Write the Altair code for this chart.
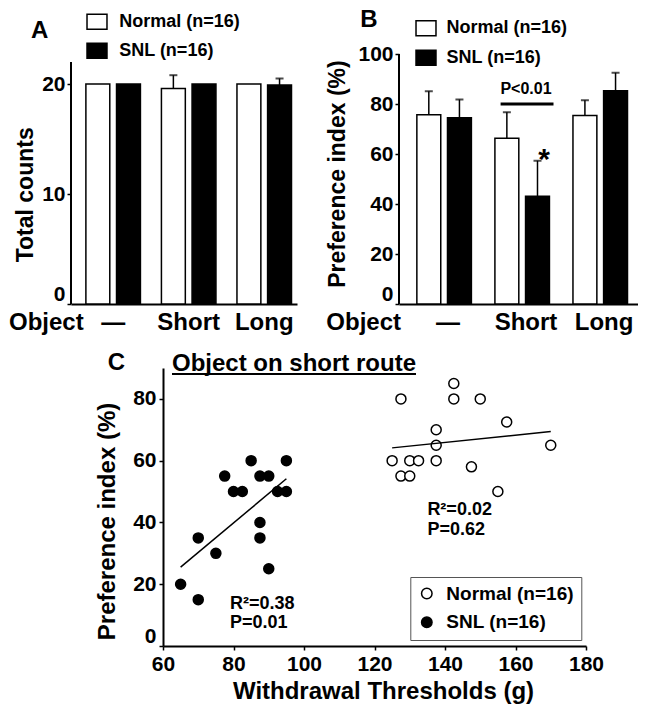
import altair as alt
import pandas as pd

FONT = "Liberation Sans"

objects = ["—", "Short", "Long"]
groups = ["Normal (n=16)", "SNL (n=16)"]

# Panel A: total counts
counts_normal = [20.0, 19.6, 20.0]
counts_normal_upper = [20.0, 20.8, 20.0]
counts_snl = [20.0, 20.0, 19.9]
counts_snl_upper = [20.0, 20.0, 20.5]

# Panel B: preference index (%)
pref_normal = [75.7, 66.3, 75.4]
pref_normal_upper = [85.1, 76.7, 81.5]
pref_snl = [74.5, 43.1, 85.3]
pref_snl_upper = [81.8, 57.3, 92.5]

# Panel C: scatter
normal_threshold = [127.5, 142.5, 150, 142.5, 157.5, 137.5, 137.5, 170, 125, 130, 132.5, 137.5, 147.5, 127.5, 130, 155]
normal_pref = [80, 80, 80, 85, 72.5, 70, 65, 65, 60, 60, 60, 60, 58, 55, 55, 50]
snl_threshold = [65, 70, 70, 75, 77.5, 80, 82.5, 85, 87.5, 90, 87.5, 87.5, 90, 92.5, 95, 95]
snl_pref = [20, 15, 35, 30, 55, 50, 50, 60, 55, 55, 40, 35, 25, 50, 50, 60]

annot_text = ["R²=0.38", "P=0.01", "R²=0.02", "P=0.62"]
annot_x = [79, 79, 135, 135]
annot_y = [13.7, 7.4, 43.9, 37.4]


def bar_table(n, nu, s, su):
    rows = []
    for i, o in enumerate(objects):
        rows.append({"object": o, "group": groups[0], "value": n[i], "upper": nu[i]})
        rows.append({"object": o, "group": groups[1], "value": s[i], "upper": su[i]})
    return pd.DataFrame(rows)


one = pd.DataFrame({"t": ["x"]})
BOLD = dict(font=FONT, fontWeight="bold", color="black")
ZERO_BOTTOM = alt.expr("datum.value == 0 ? 'bottom' : 'middle'")


def spacer(x1, x2, y1, y2):
    return alt.Chart(one).mark_rule(opacity=0).encode(
        x=alt.value(x1), x2=alt.value(x2), y=alt.value(y1), y2=alt.value(y2))


def label(text, x, y, size, align="left", baseline="alphabetic"):
    return alt.Chart(pd.DataFrame({"t": [text]})).mark_text(
        align=align, baseline=baseline, fontSize=size, **BOLD).encode(
        text="t:N", x=alt.value(x), y=alt.value(y))


def bar_panel(df, width, height, ydom, yaxis_top, yticks, ytitle, ytitle_xy, xs, offs,
              legx, legy, rowpad, loff, letter, letter_xy, sp, extra=None):
    x = alt.X("object:N", sort=objects,
              scale=alt.Scale(paddingInner=xs[0], paddingOuter=xs[1], align=xs[2]),
              axis=alt.Axis(title="Object", titleAngle=0, titleX=sp[0] + 0.5, titleY=6,
                            titleAlign="left", titleBaseline="top", titleFontSize=24,
                            labelAngle=0, labelFontSize=24, labelPadding=6, ticks=False,
                            tickSize=0, domainWidth=2))
    xo = alt.XOffset("group:N", sort=groups,
                     scale=alt.Scale(paddingInner=offs, paddingOuter=0))
    y = alt.Y("value:Q", scale=alt.Scale(domain=ydom, nice=False, zero=True),
              axis=alt.Axis(values=yticks, title=ytitle, titleFontSize=23,
                            titleX=ytitle_xy[0], titleY=ytitle_xy[1], titleBaseline="middle",
                            titleAlign="center", titleAngle=270,
                            labelFontSize=21, tickSize=4, tickWidth=1.5,
                            labelPadding=2, domain=False,
                            labelFlush=False, labelBaseline=ZERO_BOTTOM))
    fill = alt.Fill("group:N", scale=alt.Scale(domain=groups, range=["white", "black"]),
                    legend=alt.Legend(title=None, orient="none", legendX=legx, legendY=legy,
                                      direction="vertical",
                                      symbolType="M-1.2,-0.9H1.2V0.9H-1.2Z",
                                      symbolSize=277, symbolStrokeColor="black",
                                      symbolStrokeWidth=1.5, labelFontSize=18,
                                      labelFont=FONT, labelFontWeight="bold",
                                      labelColor="black", rowPadding=rowpad,
                                      labelOffset=loff, padding=0))
    base = alt.Chart(df)
    yline = alt.Chart(one).mark_rule(color="black", strokeWidth=2).encode(
        x=alt.value(0), y=alt.datum(0), y2=alt.datum(yaxis_top))
    bars = base.mark_bar(stroke="black", strokeWidth=1.5).encode(x=x, xOffset=xo, y=y, fill=fill)
    err = base.transform_filter("datum.upper > datum.value").mark_rule(
        color="black", strokeWidth=1.5).encode(x=x, xOffset=xo, y="value:Q", y2="upper:Q")
    cap = base.transform_filter("datum.upper > datum.value").mark_tick(
        color="black", thickness=2, size=8).encode(x=x, xOffset=xo, y="upper:Q")
    layers = [bars, err, cap, yline, label(letter, letter_xy[0], letter_xy[1], 24),
              spacer(sp[0], sp[1], sp[2], sp[3])]
    if extra:
        layers += extra
    return alt.layer(*layers).properties(width=width, height=height)


dfA = bar_table(counts_normal, counts_normal_upper, counts_snl, counts_snl_upper)
dfB = bar_table(pref_normal, pref_normal_upper, pref_snl, pref_snl_upper)

# A: plot area starts 7 px above the top of its axis so both panels share a top edge
A = bar_panel(dfA, 226, 250, [0, 250 / 11], 22, [0, 10, 20], "Total counts", (-46, 140.3),
              (0.278, 0.135, 0.73), 0.22, 16.5, -41.7, 8, 12.7,
              "A", (-40, -15.7), (-63, 226, -43.7, 289.3))

bracket = alt.Chart(one).mark_rule(color="black", strokeWidth=3).encode(
    x=alt.value(101.6), x2=alt.value(154.5), y=alt.datum(80))
ptext = alt.Chart(pd.DataFrame({"t": ["P<0.01"]})).mark_text(
    fontSize=16, baseline="middle", **BOLD).encode(
    text="t:N", x=alt.X(datum="Short", bandPosition=0.5), y=alt.datum(86))
star = alt.Chart(pd.DataFrame({"t": ["*"]})).mark_text(
    fontSize=30, baseline="alphabetic", **BOLD).encode(
    text="t:N", x=alt.X(datum="Short", bandPosition=0.79), y=alt.datum(54))

B = bar_panel(dfB, 239, 250, [0, 100], 100, [0, 20, 40, 60, 80, 100], "Preference index (%)",
              (-61.3, 119.6), (0.204, 0.133, 0.86), 0.175, 17.5, -35.2, 8.5, 11,
              "B", (-38.7, -27), (-73.7, 239, -43.7, 289.3), [bracket, ptext, star])

sc = pd.DataFrame({
    "thr": normal_threshold + snl_threshold,
    "pref": normal_pref + snl_pref,
    "group": [groups[0]] * len(normal_threshold) + [groups[1]] * len(snl_threshold),
})
xC = alt.X("thr:Q", scale=alt.Scale(domain=[60, 180], nice=False, zero=False),
           axis=alt.Axis(values=[60, 80, 100, 120, 140, 160, 180],
                         title="Withdrawal Thresholds (g)", titleFontSize=24,
                         titleX=220, titleY=45.5, titleBaseline="middle", titleAlign="center",
                         labelFontSize=21, tickSize=4, tickWidth=1.5, labelPadding=3,
                         domainWidth=2, labelFlush=False))
yC = alt.Y("pref:Q", scale=alt.Scale(domain=[0, 90], nice=False),
           axis=alt.Axis(values=[0, 20, 40, 60, 80], title="Preference index (%)",
                         titleFontSize=24, titleX=-55.3, titleY=153, titleBaseline="middle",
                         titleAlign="center", titleAngle=270,
                         labelFontSize=21, tickSize=4, tickWidth=1.5,
                         labelPadding=3, domainWidth=2, labelFlush=False,
                         labelBaseline=ZERO_BOTTOM))
pts = alt.Chart(sc).mark_point(shape="circle", filled=True, size=100, stroke="black",
                               strokeWidth=1.5, opacity=1).encode(
    x=xC, y=yC,
    fill=alt.Fill("group:N", scale=alt.Scale(domain=groups, range=["white", "black"]),
                  legend=alt.Legend(title=None, orient="none", legendX=247.3, legendY=209,
                                    direction="vertical", symbolType="circle",
                                    symbolSize=110, symbolStrokeColor="black",
                                    symbolStrokeWidth=1.5, labelFontSize=19,
                                    labelFont=FONT, labelFontWeight="bold",
                                    labelColor="black", strokeColor="#555",
                                    fillColor="white", padding=7, rowPadding=8.7,
                                    labelOffset=10)))
reg = alt.Chart(sc).transform_regression("thr", "pref", groupby=["group"]).mark_line(
    color="black", strokeWidth=1.5).encode(x="thr:Q", y="pref:Q", detail="group:N")
ann = alt.Chart(pd.DataFrame({"t": annot_text, "x": annot_x, "y": annot_y})).mark_text(
    align="left", baseline="middle", fontSize=18, **BOLD).encode(
    text="t:N", x="x:Q", y="y:Q")
underline = alt.Chart(one).mark_rule(color="black", strokeWidth=2).encode(
    x=alt.value(9), x2=alt.value(253), y=alt.value(6))

C = alt.layer(
    pts, reg, ann,
    label("C", -55.3, 1.7, 24),
    label("Object on short route", 9, 3.3, 24),
    underline,
    spacer(-72, 0, -22, 0),
).properties(width=423, height=278)

gap = alt.Chart(one).mark_rule(opacity=0).encode(
    x=alt.value(0), x2=alt.value(1), y=alt.value(0)).properties(width=1, height=1)

top = alt.hconcat(A, B, spacing=28).resolve_scale(
    x="independent", y="independent", fill="independent").resolve_legend(fill="independent")
bottom = alt.hconcat(gap, C, spacing=19).resolve_scale(
    x="independent", y="independent", fill="independent").resolve_legend(fill="independent")

chart = alt.vconcat(top, bottom, spacing=2).resolve_scale(
    x="independent", y="independent", fill="independent").resolve_legend(
    fill="independent").properties(padding=0).configure_view(stroke=None).configure_axis(
    labelFont=FONT, titleFont=FONT, labelFontWeight="bold", titleFontWeight="bold",
    labelColor="black", titleColor="black", domainColor="black", tickColor="black",
    grid=False)

chart.save("out.html", embed_options={"renderer": "svg", "actions": False})
